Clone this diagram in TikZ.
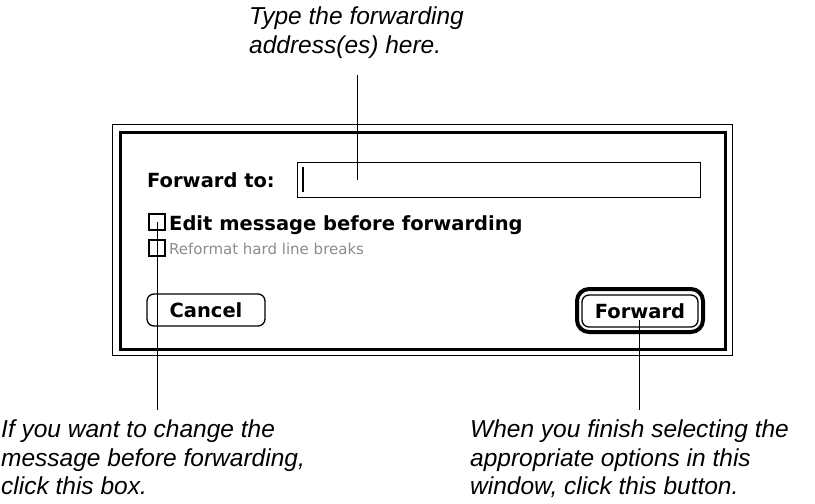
\documentclass[tikz,border=0pt]{standalone}
\usepackage{fontspec}
\setmainfont{Liberation Sans}
\newfontfamily\dlgfont{DejaVu Sans}
\begin{document}
\begin{tikzpicture}[x=1pt,y=-1pt,
  note/.style={font=\fontsize{24.5}{28.5}\selectfont\itshape, align=left, inner sep=0pt, anchor=north west},
  lbl/.style={font=\dlgfont\bfseries\fontsize{19.5}{22}\selectfont, inner sep=0pt},
  leader/.style={line width=1pt, black},
  cbox/.style={draw, line width=1.2pt, minimum size=16pt, inner sep=0pt},
  btn/.style={draw, line width=1.3pt, rounded corners=7pt, inner sep=0pt}]
\useasboundingbox (0,0) rectangle (815,504);
% dialog frame
\draw[line width=1pt] (112.5,124.5) rectangle (732.5,355.5);
\draw[line width=3pt] (120,132) rectangle (725,349);
% forward to
\node[lbl, anchor=base west] (fwdlbl) at (147,187) {Forward to:};
\node[draw, line width=1.3pt, minimum width=403pt, minimum height=35pt, inner sep=0pt, anchor=north west] (field) at (297,162) {};
\draw[line width=1.5pt] (303,167) -- (303,192);
% checkboxes
\node[cbox] (cb1) at (157,222) {};
\node[lbl, anchor=base west] (edit) at (169,230) {Edit message before forwarding};
\node[cbox] (cb2) at (157,248) {};
\node[lbl, anchor=base west, text=black!45, font=\dlgfont\fontsize{15}{18}\selectfont] (reform) at (169,254) {Reformat hard line breaks};
% buttons
\node[btn, lbl, minimum width=118pt, minimum height=32pt] (cancel) at (206,310) {Cancel};
\draw[line width=4pt, rounded corners=12pt] (577,289) rectangle (703,332);
\node[btn, lbl, minimum width=116pt, minimum height=32pt] (fwd) at (640,311) {Forward};
% notes
\node[note] (topnote) at (249,7) {Type the forwarding\\address(es) here.};
\node[note] (leftnote) at (1,420) {If you want to change the\\message before forwarding,\\click this box.};
\node[note] (rightnote) at (470,420) {When you finish selecting the\\appropriate options in this\\window, click this button.};
% leaders
\coordinate (topA) at (357,75);
\coordinate (topB) at (357,180);
\coordinate (leftB) at (157,410);
\coordinate (fwdA) at (639,320);
\coordinate (rightB) at (639,410);
\draw[leader] (topA) -- (topB);
\draw[leader] (cb1.center) -- (leftB);
\draw[leader] (fwdA) -- (rightB);
\end{tikzpicture}
\end{document}
